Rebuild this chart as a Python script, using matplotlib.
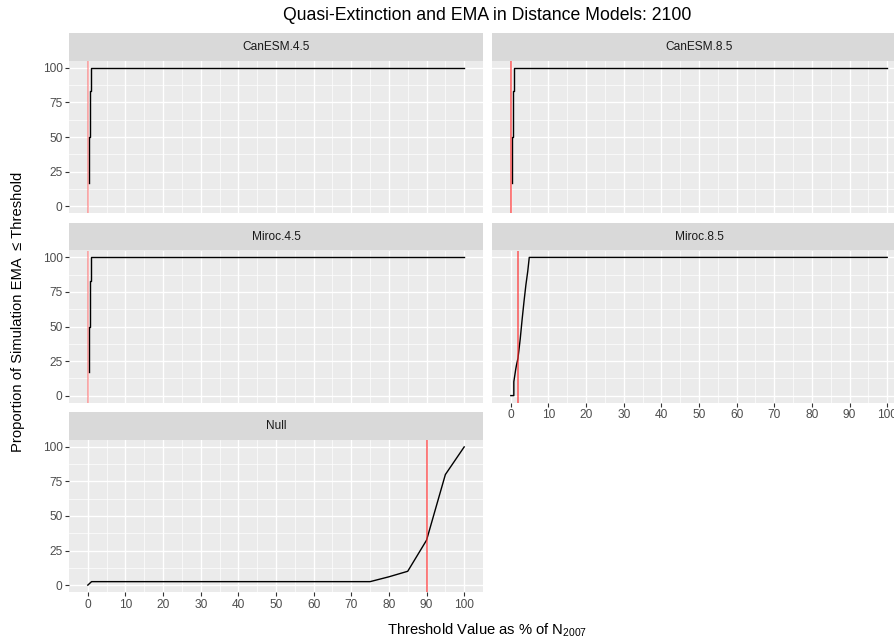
import matplotlib
matplotlib.use("Agg")
import matplotlib.pyplot as plt
from matplotlib.ticker import FixedLocator

plt.rcParams['font.family'] = ['Liberation Sans', 'DejaVu Sans']
plt.rcParams['mathtext.fontset'] = 'custom'
plt.rcParams['mathtext.rm'] = 'Liberation Sans'
plt.rcParams['mathtext.it'] = 'Liberation Sans:italic'

# ---------------- data ----------------
panels = ["CanESM.4.5", "CanESM.8.5", "Miroc.4.5", "Miroc.8.5", "Null"]

canesm45_x = [0.25, 0.25, 0.55, 0.55, 0.85, 0.85, 5, 10, 20, 30, 40, 50, 60, 70, 80, 90, 100]
canesm45_y = [17, 50, 50, 83, 83, 100, 100, 100, 100, 100, 100, 100, 100, 100, 100, 100, 100]

canesm85_x = [0.2, 0.2, 0.5, 0.5, 0.75, 0.75, 5, 10, 20, 30, 40, 50, 60, 70, 80, 90, 100]
canesm85_y = [17, 50, 50, 83, 83, 100, 100, 100, 100, 100, 100, 100, 100, 100, 100, 100, 100]

miroc45_x = [0.25, 0.25, 0.55, 0.55, 0.85, 0.85, 5, 10, 20, 30, 40, 50, 60, 70, 80, 90, 100]
miroc45_y = [17, 50, 50, 83, 83, 100, 100, 100, 100, 100, 100, 100, 100, 100, 100, 100, 100]

miroc85_x = [0, 0.8, 0.8, 1.3, 1.5, 1.9, 2.5, 3.0, 3.5, 4.0, 4.5, 4.9, 10, 20, 30, 40, 50, 60, 70, 80, 90, 100]
miroc85_y = [0, 0, 10, 19, 22, 27, 41, 55, 68, 80, 90, 100, 100, 100, 100, 100, 100, 100, 100, 100, 100, 100]

null_x = [0, 1, 5, 10, 15, 20, 25, 30, 35, 40, 45, 50, 55, 60, 65, 70, 75, 80, 85, 90, 95, 100]
null_y = [0, 2.5, 2.5, 2.5, 2.5, 2.5, 2.5, 2.5, 2.5, 2.5, 2.5, 2.5, 2.5, 2.5, 2.5, 2.5, 2.5, 6, 10, 32.5, 80, 100]

ema_line = {"CanESM.4.5": 0.0, "CanESM.8.5": 0.0, "Miroc.4.5": 0.0, "Miroc.8.5": 1.8, "Null": 90.0}

series = {
    "CanESM.4.5": (canesm45_x, canesm45_y),
    "CanESM.8.5": (canesm85_x, canesm85_y),
    "Miroc.4.5": (miroc45_x, miroc45_y),
    "Miroc.8.5": (miroc85_x, miroc85_y),
    "Null": (null_x, null_y),
}

x_ticks = [0, 10, 20, 30, 40, 50, 60, 70, 80, 90, 100]
x_minor = [5, 15, 25, 35, 45, 55, 65, 75, 85, 95]
y_ticks = [0, 25, 50, 75, 100]
y_minor = [12.5, 37.5, 62.5, 87.5]

title = "Quasi-Extinction and EMA in Distance Models: 2100"
xlabel = r"Threshold Value as % of N$_{\mathrm{2007}}$"
ylabel = "Proportion of Simulation EMA  \u2264 Threshold"

# ---------------- layout ----------------
W, H = 895, 642
fig = plt.figure(figsize=(W / 100, H / 100), dpi=100)
fig.patch.set_facecolor("white")

col_left = [69, 492]
panel_w = 414
strip_h = 28
panel_h = 152
row_top = [33, 222.5, 412]

def fx(px):
    return px / W

def fy(py):
    return 1 - py / H

positions = {
    "CanESM.4.5": (0, 0), "CanESM.8.5": (0, 1),
    "Miroc.4.5": (1, 0), "Miroc.8.5": (1, 1),
    "Null": (2, 0),
}
show_x = {"Miroc.8.5", "Null"}

red_style = {
    "CanESM.4.5": ("#FF2020", 0.4),
    "Miroc.4.5": ("#FF2020", 0.4),
    "CanESM.8.5": ("#FF2A2A", 0.7),
    "Miroc.8.5": ("#FF2A2A", 0.7),
    "Null": ("#FF2A2A", 0.7),
}

for name in panels:
    r, c = positions[name]
    left = col_left[c]
    top = row_top[r]
    # strip
    sax = fig.add_axes([fx(left), fy(top + strip_h), fx(panel_w), strip_h / H])
    sax.set_facecolor("#D9D9D9")
    sax.set_xticks([]); sax.set_yticks([])
    for s in sax.spines.values():
        s.set_visible(False)
    sax.text(0.5, 0.5, name, ha="center", va="center", fontsize=8.6,
             color="#1A1A1A", transform=sax.transAxes)
    # panel
    ax = fig.add_axes([fx(left), fy(top + strip_h + panel_h), fx(panel_w), panel_h / H])
    ax.set_facecolor("#EBEBEB")
    for s in ax.spines.values():
        s.set_visible(False)
    ax.set_xlim(-5, 105)
    ax.set_ylim(-5, 105)
    ax.xaxis.set_major_locator(FixedLocator(x_ticks))
    ax.xaxis.set_minor_locator(FixedLocator(x_minor))
    ax.yaxis.set_major_locator(FixedLocator(y_ticks))
    ax.yaxis.set_minor_locator(FixedLocator(y_minor))
    ax.grid(which="major", color="white", linewidth=1.0)
    ax.grid(which="minor", color="white", linewidth=0.5)
    ax.set_axisbelow(True)
    ax.tick_params(which="minor", length=0)
    ax.tick_params(which="major", length=2.7, width=0.8, color="#333333",
                   labelsize=8.6, labelcolor="#4D4D4D", pad=2)
    if c == 0:
        ax.set_yticklabels([str(v) for v in y_ticks])
    else:
        ax.tick_params(axis="y", length=0, labelleft=False)
    if name in show_x:
        ax.set_xticklabels([str(v) for v in x_ticks])
    else:
        ax.tick_params(axis="x", length=0, labelbottom=False)
    xs, ys = series[name]
    ax.plot(xs, ys, color="black", linewidth=1.0, zorder=3)
    col, a = red_style[name]
    ax.axvline(ema_line[name], color=col, alpha=a, linewidth=1.2, zorder=4)

fig.text(fx(487), fy(15), title, ha="center", va="center", fontsize=12.7, color="black")
fig.text(fx(487), fy(630), xlabel, ha="center", va="center", fontsize=10.6, color="black")
fig.text(fx(18), fy(312), ylabel, ha="center", va="center", rotation=90, fontsize=10.6, color="black")

fig.savefig("out.png", dpi=100)
